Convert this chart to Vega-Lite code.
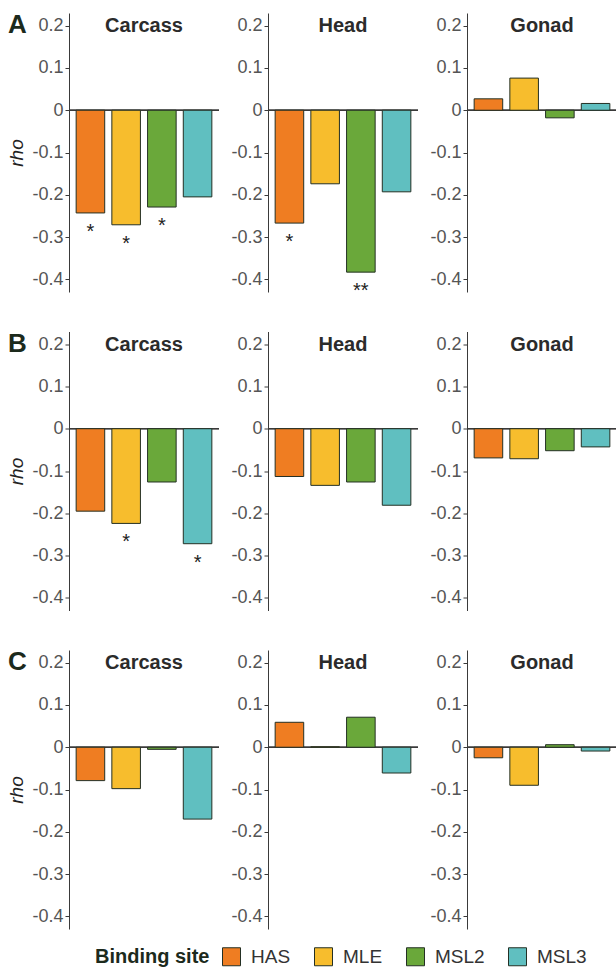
{
  "$schema": "https://vega.github.io/schema/vega-lite/v6.json",
  "padding": {"left": 7, "top": 12, "right": 0, "bottom": 0},
  "data": {"values": [
    {"panel": "A", "tissue": "Carcass", "site": "HAS", "rho": -0.243, "sig": "*"},
    {"panel": "A", "tissue": "Carcass", "site": "MLE", "rho": -0.271, "sig": "*"},
    {"panel": "A", "tissue": "Carcass", "site": "MSL2", "rho": -0.229, "sig": "*"},
    {"panel": "A", "tissue": "Carcass", "site": "MSL3", "rho": -0.205, "sig": ""},
    {"panel": "A", "tissue": "Head", "site": "HAS", "rho": -0.267, "sig": "*"},
    {"panel": "A", "tissue": "Head", "site": "MLE", "rho": -0.174, "sig": ""},
    {"panel": "A", "tissue": "Head", "site": "MSL2", "rho": -0.383, "sig": "**"},
    {"panel": "A", "tissue": "Head", "site": "MSL3", "rho": -0.193, "sig": ""},
    {"panel": "A", "tissue": "Gonad", "site": "HAS", "rho": 0.027, "sig": ""},
    {"panel": "A", "tissue": "Gonad", "site": "MLE", "rho": 0.076, "sig": ""},
    {"panel": "A", "tissue": "Gonad", "site": "MSL2", "rho": -0.018, "sig": ""},
    {"panel": "A", "tissue": "Gonad", "site": "MSL3", "rho": 0.016, "sig": ""},
    {"panel": "B", "tissue": "Carcass", "site": "HAS", "rho": -0.195, "sig": ""},
    {"panel": "B", "tissue": "Carcass", "site": "MLE", "rho": -0.224, "sig": "*"},
    {"panel": "B", "tissue": "Carcass", "site": "MSL2", "rho": -0.126, "sig": ""},
    {"panel": "B", "tissue": "Carcass", "site": "MSL3", "rho": -0.272, "sig": "*"},
    {"panel": "B", "tissue": "Head", "site": "HAS", "rho": -0.113, "sig": ""},
    {"panel": "B", "tissue": "Head", "site": "MLE", "rho": -0.134, "sig": ""},
    {"panel": "B", "tissue": "Head", "site": "MSL2", "rho": -0.126, "sig": ""},
    {"panel": "B", "tissue": "Head", "site": "MSL3", "rho": -0.181, "sig": ""},
    {"panel": "B", "tissue": "Gonad", "site": "HAS", "rho": -0.069, "sig": ""},
    {"panel": "B", "tissue": "Gonad", "site": "MLE", "rho": -0.071, "sig": ""},
    {"panel": "B", "tissue": "Gonad", "site": "MSL2", "rho": -0.052, "sig": ""},
    {"panel": "B", "tissue": "Gonad", "site": "MSL3", "rho": -0.043, "sig": ""},
    {"panel": "C", "tissue": "Carcass", "site": "HAS", "rho": -0.079, "sig": ""},
    {"panel": "C", "tissue": "Carcass", "site": "MLE", "rho": -0.098, "sig": ""},
    {"panel": "C", "tissue": "Carcass", "site": "MSL2", "rho": -0.005, "sig": ""},
    {"panel": "C", "tissue": "Carcass", "site": "MSL3", "rho": -0.170, "sig": ""},
    {"panel": "C", "tissue": "Head", "site": "HAS", "rho": 0.059, "sig": ""},
    {"panel": "C", "tissue": "Head", "site": "MLE", "rho": 0.001, "sig": ""},
    {"panel": "C", "tissue": "Head", "site": "MSL2", "rho": 0.071, "sig": ""},
    {"panel": "C", "tissue": "Head", "site": "MSL3", "rho": -0.061, "sig": ""},
    {"panel": "C", "tissue": "Gonad", "site": "HAS", "rho": -0.025, "sig": ""},
    {"panel": "C", "tissue": "Gonad", "site": "MLE", "rho": -0.090, "sig": ""},
    {"panel": "C", "tissue": "Gonad", "site": "MSL2", "rho": 0.006, "sig": ""},
    {"panel": "C", "tissue": "Gonad", "site": "MSL3", "rho": -0.009, "sig": ""}
  ]},
  "config": {
    "font": "Liberation Sans",
    "view": {"stroke": null},
    "axis": {"grid": false},
    "axisY": {
      "values": [-0.4, -0.3, -0.2, -0.1, 0, 0.1, 0.2],
      "labelExpr": "(datum.value < 0 ? '-' : '') + format(abs(datum.value), '.1~f')",
      "domainColor": "#3a3a3a",
      "tickColor": "#3a3a3a",
      "tickSize": 4,
      "labelPadding": 2,
      "labelFontSize": 18,
      "labelColor": "#555555",
      "titleFontSize": 19,
      "titleFontStyle": "italic",
      "titleFontWeight": "normal",
      "titleColor": "#222222",
      "titlePadding": 5
    },
    "title": {"fontSize": 20, "fontWeight": "bold", "color": "#2b2b2b", "offset": -23, "baseline": "alphabetic", "anchor": "middle"},
    "legend": {
      "orient": "none",
      "legendX": 26,
      "legendY": 934,
      "direction": "horizontal",
      "titleOrient": "left",
      "titleFontSize": 20,
      "titleFontWeight": "bold",
      "titleColor": "#1c2a1c",
      "titlePadding": 12,
      "labelFontSize": 19,
      "labelColor": "#333333",
      "labelOffset": 10,
      "symbolType": "square",
      "symbolSize": 324,
      "symbolStrokeColor": "#243024",
      "symbolStrokeWidth": 1,
      "symbolOpacity": 1,
      "columnPadding": 21
    }
  },
  "spacing": 38.5,
  "vconcat": [
    {
      "title": {"text": "A", "anchor": "start", "frame": "bounds", "fontSize": 26, "offset": -25, "color": "#1c2a1c"},
      "spacing": 10,
      "hconcat": [
        {"width": 150, "height": 279, "title": "Carcass",
         "transform": [{"filter": "datum.panel === 'A' && datum.tissue === 'Carcass'"}],
         "layer": [
          {"mark": {"type": "rule", "color": "#3a3a3a"}, "encoding": {"y": {"datum": 0, "type": "quantitative"}}},
          {"mark": {"type": "bar", "stroke": "#243024", "strokeWidth": 1},
           "encoding": {
             "x": {"field": "site", "type": "nominal", "axis": null, "sort": ["HAS", "MLE", "MSL2", "MSL3"], "scale": {"paddingInner": 0.2, "paddingOuter": 0.2}},
             "y": {"field": "rho", "type": "quantitative", "scale": {"domain": [-0.43, 0.23], "nice": false}, "axis": {"title": "rho"}},
             "color": {"field": "site", "type": "nominal", "title": "Binding site", "scale": {"domain": ["HAS", "MLE", "MSL2", "MSL3"], "range": ["#EF7D22", "#F7BD2D", "#6AA83A", "#60BFC0"]}}
           }},
          {"transform": [{"filter": "datum.sig != ''"}],
           "mark": {"type": "text", "dy": 25, "fontSize": 20, "baseline": "alphabetic", "color": "#222222", "clip": true},
           "encoding": {
             "x": {"field": "site", "type": "nominal", "sort": ["HAS", "MLE", "MSL2", "MSL3"]},
             "y": {"field": "rho", "type": "quantitative"},
             "text": {"field": "sig"}
           }}
         ]},
        {"width": 150, "height": 279, "title": "Head",
         "transform": [{"filter": "datum.panel === 'A' && datum.tissue === 'Head'"}],
         "layer": [
          {"mark": {"type": "rule", "color": "#3a3a3a"}, "encoding": {"y": {"datum": 0, "type": "quantitative"}}},
          {"mark": {"type": "bar", "stroke": "#243024", "strokeWidth": 1},
           "encoding": {
             "x": {"field": "site", "type": "nominal", "axis": null, "sort": ["HAS", "MLE", "MSL2", "MSL3"], "scale": {"paddingInner": 0.2, "paddingOuter": 0.2}},
             "y": {"field": "rho", "type": "quantitative", "scale": {"domain": [-0.43, 0.23], "nice": false}, "axis": {"title": null}},
             "color": {"field": "site", "type": "nominal", "title": "Binding site", "scale": {"domain": ["HAS", "MLE", "MSL2", "MSL3"], "range": ["#EF7D22", "#F7BD2D", "#6AA83A", "#60BFC0"]}}
           }},
          {"transform": [{"filter": "datum.sig != ''"}],
           "mark": {"type": "text", "dy": 25, "fontSize": 20, "baseline": "alphabetic", "color": "#222222", "clip": true},
           "encoding": {
             "x": {"field": "site", "type": "nominal", "sort": ["HAS", "MLE", "MSL2", "MSL3"]},
             "y": {"field": "rho", "type": "quantitative"},
             "text": {"field": "sig"}
           }}
         ]},
        {"width": 150, "height": 279, "title": "Gonad",
         "transform": [{"filter": "datum.panel === 'A' && datum.tissue === 'Gonad'"}],
         "layer": [
          {"mark": {"type": "rule", "color": "#3a3a3a"}, "encoding": {"y": {"datum": 0, "type": "quantitative"}}},
          {"mark": {"type": "bar", "stroke": "#243024", "strokeWidth": 1},
           "encoding": {
             "x": {"field": "site", "type": "nominal", "axis": null, "sort": ["HAS", "MLE", "MSL2", "MSL3"], "scale": {"paddingInner": 0.2, "paddingOuter": 0.2}},
             "y": {"field": "rho", "type": "quantitative", "scale": {"domain": [-0.43, 0.23], "nice": false}, "axis": {"title": null}},
             "color": {"field": "site", "type": "nominal", "title": "Binding site", "scale": {"domain": ["HAS", "MLE", "MSL2", "MSL3"], "range": ["#EF7D22", "#F7BD2D", "#6AA83A", "#60BFC0"]}}
           }}
         ]}
      ]
    },
    {
      "title": {"text": "B", "anchor": "start", "frame": "bounds", "fontSize": 26, "offset": -25, "color": "#1c2a1c"},
      "spacing": 10,
      "hconcat": [
        {"width": 150, "height": 279, "title": "Carcass",
         "transform": [{"filter": "datum.panel === 'B' && datum.tissue === 'Carcass'"}],
         "layer": [
          {"mark": {"type": "rule", "color": "#3a3a3a"}, "encoding": {"y": {"datum": 0, "type": "quantitative"}}},
          {"mark": {"type": "bar", "stroke": "#243024", "strokeWidth": 1},
           "encoding": {
             "x": {"field": "site", "type": "nominal", "axis": null, "sort": ["HAS", "MLE", "MSL2", "MSL3"], "scale": {"paddingInner": 0.2, "paddingOuter": 0.2}},
             "y": {"field": "rho", "type": "quantitative", "scale": {"domain": [-0.43, 0.23], "nice": false}, "axis": {"title": "rho"}},
             "color": {"field": "site", "type": "nominal", "title": "Binding site", "scale": {"domain": ["HAS", "MLE", "MSL2", "MSL3"], "range": ["#EF7D22", "#F7BD2D", "#6AA83A", "#60BFC0"]}}
           }},
          {"transform": [{"filter": "datum.sig != ''"}],
           "mark": {"type": "text", "dy": 25, "fontSize": 20, "baseline": "alphabetic", "color": "#222222", "clip": true},
           "encoding": {
             "x": {"field": "site", "type": "nominal", "sort": ["HAS", "MLE", "MSL2", "MSL3"]},
             "y": {"field": "rho", "type": "quantitative"},
             "text": {"field": "sig"}
           }}
         ]},
        {"width": 150, "height": 279, "title": "Head",
         "transform": [{"filter": "datum.panel === 'B' && datum.tissue === 'Head'"}],
         "layer": [
          {"mark": {"type": "rule", "color": "#3a3a3a"}, "encoding": {"y": {"datum": 0, "type": "quantitative"}}},
          {"mark": {"type": "bar", "stroke": "#243024", "strokeWidth": 1},
           "encoding": {
             "x": {"field": "site", "type": "nominal", "axis": null, "sort": ["HAS", "MLE", "MSL2", "MSL3"], "scale": {"paddingInner": 0.2, "paddingOuter": 0.2}},
             "y": {"field": "rho", "type": "quantitative", "scale": {"domain": [-0.43, 0.23], "nice": false}, "axis": {"title": null}},
             "color": {"field": "site", "type": "nominal", "title": "Binding site", "scale": {"domain": ["HAS", "MLE", "MSL2", "MSL3"], "range": ["#EF7D22", "#F7BD2D", "#6AA83A", "#60BFC0"]}}
           }}
         ]},
        {"width": 150, "height": 279, "title": "Gonad",
         "transform": [{"filter": "datum.panel === 'B' && datum.tissue === 'Gonad'"}],
         "layer": [
          {"mark": {"type": "rule", "color": "#3a3a3a"}, "encoding": {"y": {"datum": 0, "type": "quantitative"}}},
          {"mark": {"type": "bar", "stroke": "#243024", "strokeWidth": 1},
           "encoding": {
             "x": {"field": "site", "type": "nominal", "axis": null, "sort": ["HAS", "MLE", "MSL2", "MSL3"], "scale": {"paddingInner": 0.2, "paddingOuter": 0.2}},
             "y": {"field": "rho", "type": "quantitative", "scale": {"domain": [-0.43, 0.23], "nice": false}, "axis": {"title": null}},
             "color": {"field": "site", "type": "nominal", "title": "Binding site", "scale": {"domain": ["HAS", "MLE", "MSL2", "MSL3"], "range": ["#EF7D22", "#F7BD2D", "#6AA83A", "#60BFC0"]}}
           }}
         ]}
      ]
    },
    {
      "title": {"text": "C", "anchor": "start", "frame": "bounds", "fontSize": 26, "offset": -25, "color": "#1c2a1c"},
      "spacing": 10,
      "hconcat": [
        {"width": 150, "height": 279, "title": "Carcass",
         "transform": [{"filter": "datum.panel === 'C' && datum.tissue === 'Carcass'"}],
         "layer": [
          {"mark": {"type": "rule", "color": "#3a3a3a"}, "encoding": {"y": {"datum": 0, "type": "quantitative"}}},
          {"mark": {"type": "bar", "stroke": "#243024", "strokeWidth": 1},
           "encoding": {
             "x": {"field": "site", "type": "nominal", "axis": null, "sort": ["HAS", "MLE", "MSL2", "MSL3"], "scale": {"paddingInner": 0.2, "paddingOuter": 0.2}},
             "y": {"field": "rho", "type": "quantitative", "scale": {"domain": [-0.43, 0.23], "nice": false}, "axis": {"title": "rho"}},
             "color": {"field": "site", "type": "nominal", "title": "Binding site", "scale": {"domain": ["HAS", "MLE", "MSL2", "MSL3"], "range": ["#EF7D22", "#F7BD2D", "#6AA83A", "#60BFC0"]}}
           }}
         ]},
        {"width": 150, "height": 279, "title": "Head",
         "transform": [{"filter": "datum.panel === 'C' && datum.tissue === 'Head'"}],
         "layer": [
          {"mark": {"type": "rule", "color": "#3a3a3a"}, "encoding": {"y": {"datum": 0, "type": "quantitative"}}},
          {"mark": {"type": "bar", "stroke": "#243024", "strokeWidth": 1},
           "encoding": {
             "x": {"field": "site", "type": "nominal", "axis": null, "sort": ["HAS", "MLE", "MSL2", "MSL3"], "scale": {"paddingInner": 0.2, "paddingOuter": 0.2}},
             "y": {"field": "rho", "type": "quantitative", "scale": {"domain": [-0.43, 0.23], "nice": false}, "axis": {"title": null}},
             "color": {"field": "site", "type": "nominal", "title": "Binding site", "scale": {"domain": ["HAS", "MLE", "MSL2", "MSL3"], "range": ["#EF7D22", "#F7BD2D", "#6AA83A", "#60BFC0"]}}
           }}
         ]},
        {"width": 150, "height": 279, "title": "Gonad",
         "transform": [{"filter": "datum.panel === 'C' && datum.tissue === 'Gonad'"}],
         "layer": [
          {"mark": {"type": "rule", "color": "#3a3a3a"}, "encoding": {"y": {"datum": 0, "type": "quantitative"}}},
          {"mark": {"type": "bar", "stroke": "#243024", "strokeWidth": 1},
           "encoding": {
             "x": {"field": "site", "type": "nominal", "axis": null, "sort": ["HAS", "MLE", "MSL2", "MSL3"], "scale": {"paddingInner": 0.2, "paddingOuter": 0.2}},
             "y": {"field": "rho", "type": "quantitative", "scale": {"domain": [-0.43, 0.23], "nice": false}, "axis": {"title": null}},
             "color": {"field": "site", "type": "nominal", "title": "Binding site", "scale": {"domain": ["HAS", "MLE", "MSL2", "MSL3"], "range": ["#EF7D22", "#F7BD2D", "#6AA83A", "#60BFC0"]}}
           }}
         ]}
      ]
    }
  ]
}
